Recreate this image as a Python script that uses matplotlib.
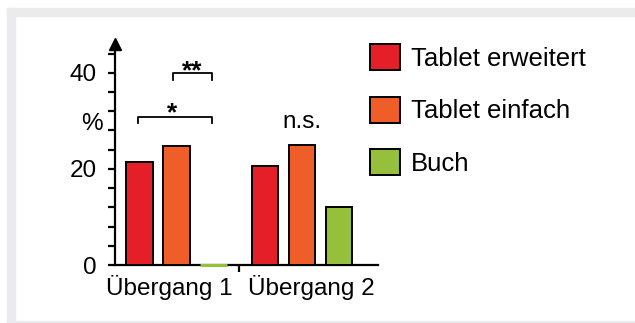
import numpy as np
import matplotlib.pyplot as plt
from matplotlib.patches import Rectangle, Patch

plt.rcParams['font.family'] = ['Liberation Sans', 'DejaVu Sans']

# percentages per transition
groups = ['Übergang 1', 'Übergang 2']
series = ['Tablet erweitert', 'Tablet einfach', 'Buch']
tab_erw = [21.4, 20.6]
tab_einf = [24.8, 24.9]
buch = [0.0, 12.1]
colors = ['#e41f27', '#ef5e28', '#96bf3c']

yticks = np.arange(0, 45, 4)
ylabels = ['0', '20', '40']

W, H = 635, 323
fig = plt.figure(figsize=(W / 100, H / 100), dpi=100)

# grey frame: top and left bands, faint line at the bottom
frame = '#ebebed'
for x0, y0, w, h in [(7, 8, W - 7, 8), (7, 8, 8, H - 8), (7, H - 2, W - 7, 1)]:
    fig.patches.append(Rectangle((x0 / W, 1 - (y0 + h) / H), w / W, h / H,
                                 transform=fig.transFigure, color=frame, zorder=0))

ax = fig.add_axes([115 / W, 58 / H, 263 / W, 221 / H])
ax.set_xlim(-1.66, 5.45)
ax.set_ylim(0, 46)

centers = np.array([0, 3.4])
width = 0.72
for i, (vals, col) in enumerate(zip([tab_erw, tab_einf, buch], colors)):
    for x, v in zip(centers + (i - 1), vals):
        ec = col if v == 0 else 'black'
        ax.bar(x, v, width, color=col, edgecolor=ec, linewidth=1.4 if v else 2.2, zorder=3, clip_on=False)

for s in ['top', 'right']:
    ax.spines[s].set_visible(False)
ax.spines['left'].set_linewidth(1.6)
ax.spines['bottom'].set_linewidth(1.6)

ax.set_yticks(yticks)
ax.set_yticklabels([str(t) if str(t) in ylabels else '' for t in yticks], fontsize=17.5)
ax.tick_params(axis='y', length=5, width=1.6, pad=8)
ax.set_xticks([1.7])
ax.set_xticklabels([])
ax.tick_params(axis='x', length=5, width=1.6)

# arrow head on the y axis
ax.plot(0, 1, marker='^', color='black', markersize=8, transform=ax.transAxes, clip_on=False)

# group labels on either side of the separator tick
ax.annotate(groups[0], (1.7, 0), xytext=(-5, -21.5), textcoords='offset points',
            ha='right', va='baseline', fontsize=17.5)
ax.annotate(groups[1], (1.7, 0), xytext=(6, -21.5), textcoords='offset points',
            ha='left', va='baseline', fontsize=17.5)

ax.text(-0.089, 28.1, '%', transform=ax.get_yaxis_transform(), ha='center', va='baseline', fontsize=17.5)

# significance brackets
ax.plot([-1.05, -1.05, 0.97, 0.97], [29.5, 30.8, 30.8, 29.5], color='black', lw=1.3)
ax.plot([-0.1, -0.1, 0.97, 0.97], [38.5, 40, 40, 38.5], color='black', lw=1.3)
ax.text(-0.12, 30.2, '*', ha='center', va='baseline', fontsize=19, fontweight='bold')
ax.text(0.42, 38.9, '**', ha='center', va='baseline', fontsize=19, fontweight='bold')
ax.text(3.4, 28.5, 'n.s.', ha='center', va='baseline', fontsize=17.5)

handles = [Patch(facecolor=c, edgecolor='black', linewidth=1.4) for c in colors]
fig.legend(handles, series, loc='upper left', bbox_to_anchor=(370 / W, 1 - 44 / H),
           frameon=False, fontsize=18.5, handlelength=1.15, handleheight=1.2,
           handletextpad=0.45, labelspacing=1.0, borderpad=0, borderaxespad=0)

fig.savefig('out.png', dpi=100)
